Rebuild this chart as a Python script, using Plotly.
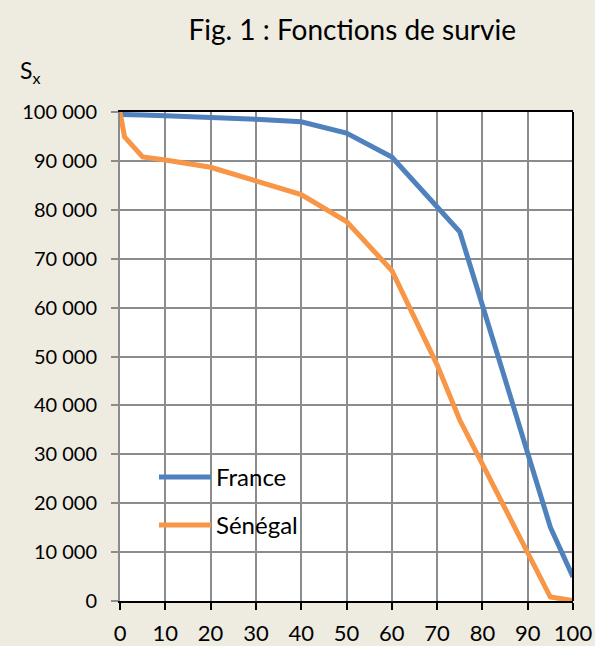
import plotly.graph_objects as go

ages_france = [0, 1, 5, 10, 20, 30, 40, 50, 60, 75, 80, 90, 95, 100]
s_france = [99500, 99450, 99400, 99250, 98950, 98500, 98000, 95700, 90800, 75500, 60500, 30000, 15100, 4900]

ages_senegal = [0, 1, 5, 10, 20, 30, 40, 50, 60, 70, 75, 80, 90, 95, 100]
s_senegal = [100000, 94900, 90800, 90200, 88700, 86000, 83100, 77600, 67600, 48300, 37000, 28000, 10000, 800, 100]

title_text = "Fig. 1 : Fonctions de survie"
y_label = "S<sub>x</sub>"

FONT = "Lato"
BG = "#EEEBE1"
GRID = "#8C8C8C"

fig = go.Figure()
fig.add_trace(go.Scatter(x=ages_france, y=s_france, mode="lines", name="France",
                         legendgroup="fr",
                         line=dict(color="#4F81BD", width=5)))
fig.add_trace(go.Scatter(x=ages_senegal, y=s_senegal, mode="lines", name="Sénégal",
                         legendgroup="sn",
                         line=dict(color="#F79646", width=5)))

fig.update_layout(
    width=595, height=646,
    margin=dict(l=120, r=22, t=112, b=45),
    paper_bgcolor=BG, plot_bgcolor="white",
    separators=", ",
    font=dict(family=FONT, size=21, color="#000000"),
    title=dict(text=title_text, x=0.592, xanchor="center", y=0.954, yanchor="middle",
               font=dict(family=FONT, size=28, color="#000")),
    showlegend=True,
    legend=dict(x=0.075, y=0.299, xanchor="left", yanchor="top", bgcolor="rgba(0,0,0,0)",
                font=dict(family=FONT, size=24), itemwidth=52, tracegroupgap=14),
    xaxis=dict(range=[0, 100], tickvals=list(range(0, 101, 10)), showgrid=True,
               gridcolor=GRID, gridwidth=1.5, showline=True, linecolor="black", linewidth=2,
               mirror=True, ticks="outside", ticklen=7, tickcolor="black", tickwidth=1.5,
               zeroline=False, tickfont=dict(family=FONT, size=22), automargin=False,
               ticklabelstandoff=5),
    yaxis=dict(range=[0, 100000], tickvals=list(range(0, 100001, 10000)), tickformat=",d",
               showgrid=True, gridcolor=GRID, gridwidth=1.5, showline=True, linecolor=GRID,
               linewidth=2, ticks="outside", ticklen=7, tickcolor=GRID, tickwidth=1.5,
               zeroline=False, tickfont=dict(family=FONT, size=20), automargin=False,
               ticklabelstandoff=10),
    annotations=[dict(text=y_label, xref="paper", yref="paper", x=-0.225, y=1.082,
                      xanchor="left", yanchor="middle", showarrow=False,
                      font=dict(family=FONT, size=23))],
    shapes=[dict(type="line", xref="paper", yref="paper", x0=1, x1=1, y0=0, y1=1,
                 line=dict(color="black", width=2))],
)

fig.write_html("out.html", config={"displayModeBar": False},
               post_script="document.body.style.margin='0';")
